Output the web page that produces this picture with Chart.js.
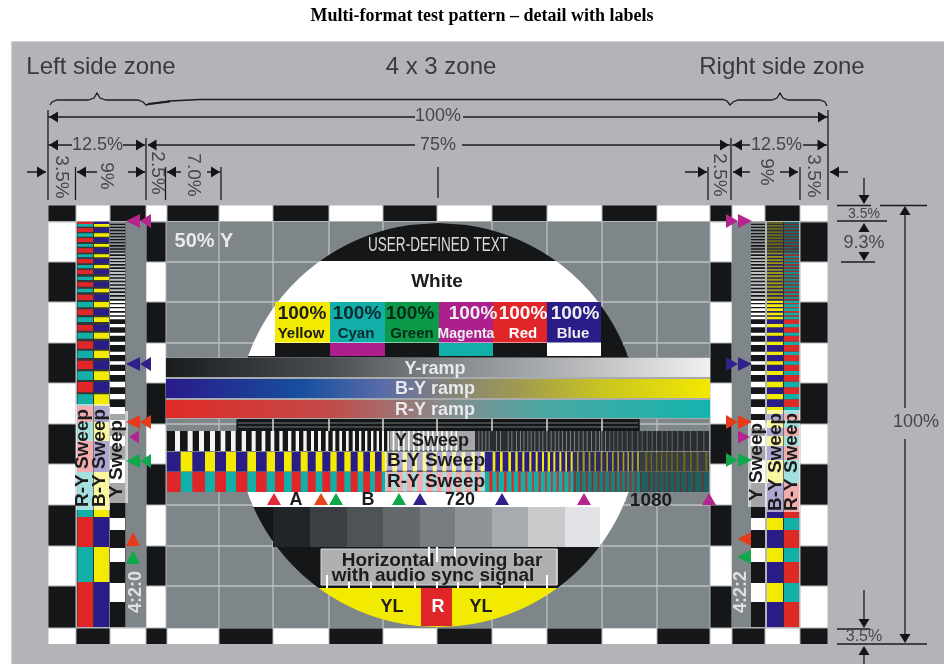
<!doctype html>
<html><head><meta charset="utf-8">
<style>html,body{margin:0;background:#fff}canvas{display:block}</style></head>
<body><canvas id="c" width="944" height="664"></canvas>
<script src="https://cdn.jsdelivr.net/npm/chart.js@4"></script>
<script>
// All values are in raster units of the test pattern: X = 0 left edge, Y = 0 top edge, frame = 780 x 438.
const titleText = 'Multi-format test pattern \u2013 detail with labels';
const checkColEdges = [0,28,62,98,119,171,225,281,335,389,444,499,554,609,662,684,717,752,780];
const checkRowEdges = [16,56,96,137,177,218,258,299,340,380,422];
const gridCols = [171,225,281,335,389,444,499,554,609];
const gridRows = [56,96,137,177,218,258,299,340,380];
const barEdges = [227,282,337,391,445,499,553];
const barColors = ['#f2ea00','#12aea8','#0a9a4a','#ad1f8c','#e1262a','#2a1d88'];
const subBarColors = ['#141618','#ad1f8c','#141618','#12aea8','#141618','#ffffff'];
const stepEdges = [225,262,299,335,372,407,444,480,517,552];
const stepColors = ['#212528','#3a4043','#4d5356','#62686b','#777d80','#909497','#a8abad','#c8cacc','#e2e3e6'];
// vertical sweeps, in thirds of a sample from their crop origin
const lumaLeft = [[45,60],[83,98],[117,132],[150,165],[182,196],[213,227],[245,258],[275,287],[305,316],[332,343],[358,368],[384,394],[407,417],[430,440],[453,462],[474,483],[497,505],[518,526],[538,546],[558,566],[578,585],[597,604],[615,622],[633,640],[650,657],[666,672],[682,688],[698,703],[714,719],[729,734],[744,749],[759,764],[774,779],[788,793],[802,807],[816,821],[830,835],[844,849],[858,863],[872,877],[886,891]];
const chromaLeft = [[62,97],[135,165],[198,228],[262,288],[320,345],[372,395],[422,443],[467,487],[511,530],[553,572],[593,610],[630,645],[665,680],[697,711],[728,741],[758,771],[788,800],[818,830],[847,859],[876,888],[905,916],[934,945],[962,973]];
const yellowRight = [[158,166],[180,188],[205,213],[226,233],[247,253],[268,274],[287,293],[306,312],[323,330],[340,346],[358,364],[376,381],[392,398],[411,416],[428,434],[446,451],[463,468],[482,487],[499,504],[516,521],[532,537],[548,553],[562,567],[575,580],[591,597],[616,622],[632,636],[648,652],[663,667],[678,682],[694,698],[710,714],[730,736],[750,755],[770,775],[796,802]];
const redRight = [[148,157],[170,176],[192,200],[215,221],[235,242],[256,262],[277,282],[296,302],[315,320],[333,338],[350,356],[368,373],[386,391],[403,408],[421,426],[438,443],[455,460],[473,478],[490,495],[508,512],[525,530],[541,545],[555,560],[569,574],[584,589],[600,604],[625,630],[640,644],[656,660],[671,675],[686,690],[702,706],[720,724],[740,745],[760,765],[785,790]];
const lumaRight = [115,125,136,146,156,168,180,192,203,214,228,240,250,262,272,283,296,307,319,332,344,355,366,378,390,402,415,428,440,453,466,477,484,495,508,520,532,545,560,575,592,605,620,635,648,665,680,695,712,730,750,770,790];
// horizontal sweeps, in thirds of a line from their crop origin
const lumaRows = [[66,71],[75,80],[84,89],[94,99],[103,108],[112,117],[121,126],[130,135],[140,145],[149,154],[158,163],[168,173],[178,183],[187,192],[197,202],[207,212],[216,222],[226,232],[236,242],[247,253],[257,263],[268,274],[279,285],[290,297],[302,309],[313,321],[325,333],[338,346],[350,358],[372,382],[398,407],[425,435],[455,465],[484,494],[513,525],[545,562],[582,598],[621,642],[660,684],[708,738],[780,849],[954,990],[1044,1086],[1149,1206]];
const leftRedRows = [[65,72],[84,96],[114,126],[145,158],[177,190],[209,222],[247,260],[284,300],[328,345],[375,392],[424,446],[482,507],[546,577],[618,666],[723,816],[951,1041],[1146,1281]];
const leftCyanRows = [[72,80],[100,110],[132,140],[163,172],[195,205],[230,240],[266,277],[306,322],[352,366],[398,416],[452,474],[514,540],[583,617],[666,723],[816,951],[1041,1146]];
const centerTriX = [226,273,288,351,372,454,536,661];
const centerTriColors = ['#e6283a','#e8451c','#0fa84a','#0fa84a','#30208a','#30208a','#b5258f','#b5258f'];
const tickTall = [279,499], tickShort = [301,323,345,367,389,410,432,454,477], tickUpper = [381,389,407];
const dimVertical = [[0,-96,-6],[98,-68,-6],[27.5,-39,-6],[117.5,-39,-6],[173,-39,-6],[390,-39,-8],[660,-39,-6],[683,-68,-6],[752,-39,-6],[780,-96,-6],[816,-28,-3],[857,8,202],[857,233,430],[816,384,414],[816,449,458]];
const dimHorizontal = [[0,367,-89],[415,780,-89],[0,24,-61],[75,97,-61],[100,367,-61],[414,682,-61],[684,702,-61],[755,779,-61],[-21,-2,-34],[29,49,-34],[80,97,-34],[119,133,-34],[159,172,-34],[637,659,-34],[685,702,-34],[732,750,-34],[782,800,-34],[789,823,-0.5],[832,879,-0.5],[789,839,15],[793,827,56],[789,822,423],[789,879,438]];
const dimArrows = [[1,-89,'L'],[779,-89,'R'],[1,-61,'L'],[97,-61,'R'],[99.5,-61,'L'],[681,-61,'R'],[685,-61,'L'],[778.5,-61,'R'],[-2,-34,'R'],[29,-34,'L'],[97,-34,'R'],[119,-34,'L'],[172,-34,'R'],[659,-34,'R'],[685,-34,'L'],[750,-34,'R'],[782,-34,'L'],[816,-2,'D'],[816,17,'U'],[816,55,'D'],[857,0,'U'],[857,437,'D'],[816,422,'D'],[816,440,'U']];
const bracePath = [[2,-101],[4,-104],[9,-106],[40,-106],[46,-108],[49,-113],[52,-108],[58,-106],[90,-106],[95,-104],[98,-101],[102,-102],[122,-105],[152,-106.5],[675,-106.5],[679,-105],[682,-101],[685,-104],[690,-106],[724,-106],[729,-108],[732,-113],[735,-108],[740,-106],[772,-106],[777,-104],[779,-100]];
const yRampStops = [[0,'#1a1c1e'],[.3,'#4a4e50'],[.5,'#7f8488'],[.75,'#b5b7b9'],[1,'#f0f0f2']];
const bRampStops = [[0,'#2a1a8a'],[.25,'#174f9e'],[.4,'#5a6ca8'],[.5,'#808080'],[.65,'#a09a50'],[.8,'#c8c420'],[1,'#f2e800']];
const rRampStops = [[0,'#e02a26'],[.3,'#c24a48'],[.5,'#8a8a8a'],[.7,'#4aa8a4'],[1,'#14b4ae']];

const BLACK='#141618', WHITE='#ffffff', GRAY='#7f8689', DARK='#33373b';
const GAP={x:null,y:null};
const layers=[];
function poly(color,pts){
  const l=layers[layers.length-1];
  const p=pts.map(a=>({x:a[0],y:a[1]}));
  if(l&&l.k==='f'&&l.c===color){l.p.push(GAP,...p);} else layers.push({k:'f',c:color,p});
}
function rect(x0,x1,y0,y1,color){poly(color,[[x0,y0],[x1,y0],[x1,y1],[x0,y1]]);}
function line(color,w,segs){
  const p=[];segs.forEach((s,i)=>{if(i)p.push(GAP);s.forEach(a=>p.push({x:a[0],y:a[1]}));});
  layers.push({k:'l',c:color,w,p});
}
function ramp(x0,x1,y0,y1,stops){layers.push({k:'g',stops,x0,x1,p:[[x0,y0],[x1,y0],[x1,y1],[x0,y1]].map(a=>({x:a[0],y:a[1]}))});}
const DISC={cx:390,cy:219,r:202};
function disc(y0,y1,color,xmin=-1e9,xmax=1e9){
  const L=[],R=[];
  for(let y=y0;;y=Math.min(y+2,y1)){
    const hw=Math.sqrt(Math.max(0,DISC.r*DISC.r-(y-DISC.cy)*(y-DISC.cy)));
    L.push([Math.min(xmax,Math.max(xmin,DISC.cx-hw)),y]);
    R.push([Math.max(xmin,Math.min(xmax,DISC.cx+hw)),y]);
    if(y>=y1)break;
  }
  poly(color,L.concat(R.reverse()));
}
const zy=z=>-6+z/3, sxL=z=>112+z/3, sxR=z=>392+z/3;
const tierOf=(z,a,b)=>z<a?0:z<b?1:2;

// checkerboard
for(let i=0;i<checkColEdges.length-1;i++){
  const a=checkColEdges[i]+.5,b=checkColEdges[i+1]-.5;
  rect(a,b,-.5,15,i%2?WHITE:BLACK);
  rect(a,b,422.5,438,i%2?BLACK:WHITE);
}
function checkCol(x0,x1,firstWhite){
  for(let i=0;i<checkRowEdges.length-1;i++){
    rect(x0+.5,x1-.5,checkRowEdges[i]+.5,checkRowEdges[i+1]-.5,(i%2===0)===firstWhite?WHITE:BLACK);
  }
}
checkCol(0,28,true);checkCol(98,118,false);checkCol(662,684,true);checkCol(752,780,false);

// side strips
rect(78,98,16,421,GRAY);rect(684,703,16,421,GRAY);
// left horizontal sweeps
rect(29,61.5,16,421,DARK);rect(62,77.5,16,421,BLACK);
leftRedRows.forEach(r=>{rect(29.5,45,zy(r[0]),zy(r[1]),'#e1262a');});
leftCyanRows.forEach(r=>{rect(29.5,45,zy(r[0]),zy(r[1]),'#12aea8');});
leftRedRows.forEach(r=>{rect(46,61,zy(r[0]),zy(r[1]),'#2a1d88');});
leftCyanRows.forEach(r=>{rect(46,61,zy(r[0]),zy(r[1]),'#f2ea00');});
const lumaShade=['#8a8e90','#c0c2c4','#ffffff'];
lumaRows.forEach(r=>rect(62,77,zy(r[0]),zy(r[1]),lumaShade[tierOf(r[0],150,300)]));
// right horizontal sweeps
rect(703,717,16,421,BLACK);rect(719,751,16,421,'#2c2f3a');
const blueShade=['#30304a','#2a2466','#2a1d88'],yellowShade=['#6f6c18','#9c9812','#f2ea00'];
const redShade=['#7a2c2c','#a82a2a','#dd2a26'],cyanShade=['#1e6a6a','#16908c','#12aea8'];
lumaRows.forEach((r,i)=>{
  const next=i+1<lumaRows.length?lumaRows[i+1][0]:1281, t=tierOf(r[0],150,300);
  rect(703,717,zy(r[0]),zy(r[1]),lumaShade[t]);
  rect(719,735,zy(r[1]),zy(next),blueShade[t]);
  rect(719,735,zy(r[0]),zy(r[1]),yellowShade[t]);
  rect(736,751,zy(r[1]),zy(next),redShade[t]);
  rect(736,751,zy(r[0]),zy(r[1]),cyanShade[t]);
});

// centre grey field and grid
rect(118.5,661.5,16,422,GRAY);
line('#bcc0c1',1.3,gridCols.map(x=>[[x,16],[x,422]]).concat(gridRows.map(y=>[[118.5,y],[661.5,y]])));

// disc
disc(17,55,BLACK);
disc(55,153,WHITE,-1e9,553);
disc(96,153,BLACK,553);
for(let i=0;i<barColors.length;i++){
  rect(barEdges[i],barEdges[i+1],96,136.5,barColors[i]);
  rect(barEdges[i],barEdges[i+1],137,151,subBarColors[i]);
}
disc(150,226,BLACK);
line('#70767a',1,[[[190,217],[590,217]],[[190,221],[590,221]]]);
line('#d6d8d9',1.5,[171,225,281,335,389,444,499,554].filter(x=>x>190).map(x=>[[x,213],[x,225]]));
disc(285,301,WHITE);
disc(301,341,BLACK,-1e9,226);
disc(301,341,WHITE,552);
for(let i=0;i<stepColors.length;i++) rect(stepEdges[i],stepEdges[i+1],301,341,stepColors[i]);
disc(341,382,BLACK);
disc(382,421,'#f2ea00');
rect(373,404,382,420,'#e1262a');

// ramps
rect(118,662,151.5,213,'#a8aaac');
ramp(118,662,152,171,yRampStops);
ramp(118,662,173,192,bRampStops);
ramp(118,662,194,212,rRampStops);

// vertical sweeps
rect(119,427,225,245,BLACK);rect(427,661,225,245,'#2a2e31');
rect(119,525,246,265.5,'#2a1d88');rect(525,592,246,265.5,'#2c2a62');rect(592,661,246,265.5,'#3a3c44');
rect(119,437,266,286,'#e1262a');rect(437,525,266,286,'#12aea8');rect(525,592,266,286,'#19807c');rect(592,661,266,286,'#1e5f5f');
lumaLeft.forEach(b=>rect(sxL(b[0]),sxL(b[1]),225,245,'#f4f4f4'));
chromaLeft.forEach(b=>rect(sxL(b[0]),sxL(b[1]),246,265.5,'#f2ea00'));
chromaLeft.forEach(b=>rect(sxL(b[0]),sxL(b[1]),266,286,'#12aea8'));
lumaRight.forEach(z=>rect(sxR(z),sxR(z)+1,225,245,z<500?'#7a7e80':'#64686a'));
const yTier=['#f2ea00','#a8a010','#6f6c18'],rTier=['#dd2a26','#9c2b28','#6c2e2c'];
yellowRight.forEach(b=>rect(sxR(b[0]),sxR(b[1]),246,265.5,yTier[tierOf(b[0],400,600)]));
redRight.forEach(b=>rect(sxR(b[0]),sxR(b[1]),266,286,rTier[tierOf(b[0],400,600)]));

// triangles below the sweeps
centerTriX.forEach((x,i)=>poly(centerTriColors[i],[[x,287],[x+7,299],[x-7,299]]));

// moving bar area
rect(273,509,343,379,'#aeb0b2');
line('#d5d6d8',1,[[[273,343],[509,343],[509,379],[273,379],[273,343]]]);
tickTall.forEach(x=>rect(x-1,x+1,369,382,WHITE));
tickShort.forEach(x=>rect(x-1,x+1,376,382,WHITE));
tickUpper.forEach(x=>rect(x-1,x+1,341,356,WHITE));

// translucent sweep captions
const veil='rgba(255,255,255,0.62)';
rect(342,427,225,244.5,veil);rect(337,437,246,264.5,veil);rect(337,437,266,285.5,veil);
rect(28,45,198,304,veil);rect(45.5,62,198,304,veil);rect(62,80,205,297,veil);
rect(700,719,216,301,veil);rect(719,735,204,306,veil);rect(735.5,752,204,306,veil);

// coloured locators
const MAG='#b5258f',PUR='#30208a',RED='#e63a1a',GRN='#0fa84a';
[[15,MAG],[158,PUR],[216,RED],[255,GRN]].forEach(a=>{
  poly(a[1],[[78,a[0]],[92,a[0]-7],[92,a[0]+7]]);
  poly(a[1],[[92,a[0]],[103,a[0]-7],[103,a[0]+7]]);
});
[[15,MAG],[158,PUR],[216,RED],[254,GRN]].forEach(a=>{
  poly(a[1],[[690,a[0]],[678,a[0]-7],[678,a[0]+7]]);
  poly(a[1],[[704,a[0]],[690,a[0]-7],[690,a[0]+7]]);
});
poly(MAG,[[81,231],[91,224.5],[91,237.5]]);
poly(RED,[[85,326],[92,340],[78,340]]);
poly(GRN,[[85,344],[92,358],[78,358]]);
poly(MAG,[[702,231],[690,224.5],[690,237.5]]);
poly(RED,[[689.5,333],[703,326],[703,340]]);
poly(GRN,[[689,351],[703,344],[703,358]]);

// dimension lines
line('#1c1c1e',1.3,dimVertical.map(a=>[[a[0],a[1]],[a[0],a[2]]]).concat(dimHorizontal.map(a=>[[a[0],a[2]],[a[1],a[2]]])));
line('#1c1c1e',1.3,[bracePath]);
line('#1c1c1e',2,[[[100,-102],[122,-104.6]]]);
dimArrows.forEach(a=>{
  const [x,y,d]=a,L=9,H=5.5;
  if(d==='L')poly('#141416',[[x,y],[x+L,y-H],[x+L,y+H]]);
  if(d==='R')poly('#141416',[[x,y],[x-L,y-H],[x-L,y+H]]);
  if(d==='U')poly('#141416',[[x,y],[x-H,y+L],[x+H,y+L]]);
  if(d==='D')poly('#141416',[[x,y],[x-H,y-L],[x+H,y-L]]);
});

// text
const S='"Liberation Sans"',DIM='#47474b',INK='#1c1c1e',SOFT='#e8e8ee';
const T=(t,x,y,size,color,bold=false,rot=0,extra={})=>({t,x,y,size,color,bold,rot,...extra});
const texts=[
 T('Left side zone',53,-139,24,'#3a3a3e'),T('4 x 3 zone',393,-139,24,'#3a3a3e'),T('Right side zone',734,-139,24,'#3a3a3e'),
 T('100%',390,-90,18,DIM),T('12.5%',49.5,-61,18,DIM),T('75%',390,-61,18,DIM),T('12.5%',728.5,-61,18,DIM),
 T('3.5%',13,-29,19,DIM,false,90),T('9%',58,-30,19,DIM,false,90),T('2.5%',109,-33,19,DIM,false,90),T('7.0%',145,-31,19,DIM,false,90),
 T('2.5%',671,-31,19,DIM,false,90),T('9%',718,-34,19,DIM,false,90),T('3.5%',765,-30,19,DIM,false,90),
 T('3.5%',816,8,14,DIM),T('9.3%',816,37,18,DIM),T('100%',868,216,18,DIM),T('3.5%',816,431,16,DIM),
 T('50% Y',156,35,20,SOFT,true),
 T('USER-DEFINED TEXT',390,39,20,'#dcdcdc',false,0,{max:140}),
 T('White',389,76,19,INK,true),
 T('100%',254,108,19,INK,true),T('100%',309,108,19,'#0a2a30',true),T('100%',362,108,19,'#062a18',true),T('100%',425,108,19,'#eee',true),T('100%',475,108,19,'#fff',true),T('100%',527,108,19,'#eee',true),
 T('Yellow',253,128,15,INK,true),T('Cyan',308,128,15,'#0a2a30',true),T('Green',364,128,15,'#062a18',true),T('Magenta',418,128,14,'#eee',true),T('Red',475,128,15,'#fff',true),T('Blue',525,128,15,'#eee',true),
 T('Y-ramp',387,163,18,SOFT,true),T('B-Y ramp',387,183,18,SOFT,true),T('R-Y ramp',387,204,18,SOFT,true),
 T('Y Sweep',384,235,18,INK,true),T('B-Y Sweep',388,255,19,INK,true),T('R-Y Sweep',388,276,19,INK,true),
 T('A',248,294,18,INK,true),T('B',320,294,18,INK,true),T('720',412,294,18,INK,true),T('1080',603,295,19,INK,true),
 T('Horizontal moving bar',394,355,19,INK,true),T('with audio sync signal',385,370,19,INK,true),
 T('YL',344,401,18,INK,true),T('R',390,401,18,'#fff',true),T('YL',433,401,18,INK,true),
 T('R-Y Sweep',35,252,19,INK,true,-90),T('B-Y Sweep',52,252,19,INK,true,-90),T('Y Sweep',69,253,19,INK,true,-90),
 T('Y Sweep',709,256,19,INK,true,-90),T('B-Y Sweep',728,256,19,INK,true,-90),T('R-Y Sweep',744,256,19,INK,true,-90),
 T('4:2:0',88,386,18,'#e0e0e0',true,-90),T('4:2:2',693,386,18,'#e0e0e0',true,-90)
];

const datasets=layers.map(l=>{
  const base={data:l.p,showLine:true,pointRadius:0,pointHoverRadius:0,tension:0,spanGaps:false};
  if(l.k==='l')return {...base,borderColor:l.c,borderWidth:l.w,fill:false};
  if(l.k==='g')return {...base,borderWidth:0,fill:'shape',backgroundColor(ctx){
    const ch=ctx.chart,sc=ch.scales&&ch.scales.x; if(!sc)return '#888';
    const a=sc.getPixelForValue(l.x0),b=sc.getPixelForValue(l.x1);
    if(!isFinite(a)||!isFinite(b))return '#888';
    const g=ch.ctx.createLinearGradient(a,0,b,0);
    l.stops.forEach(s=>g.addColorStop(s[0],s[1]));return g;}};
  return {...base,borderWidth:0,fill:'shape',backgroundColor:l.c};
}).reverse();

const panel={id:'panel',
  beforeDraw(ch){const c=ch.ctx;c.save();c.fillStyle='#fff';c.fillRect(0,0,ch.width,ch.height);c.restore();},
  beforeDatasetsDraw(ch){
    const c=ch.ctx,X=ch.scales.x,Y=ch.scales.y,x0=X.getPixelForValue(-37),y0=Y.getPixelForValue(-165);
    c.save();c.fillStyle='#b3b4b8';c.fillRect(x0,y0,ch.width-x0,ch.height-y0);
    c.fillStyle='#cdced1';c.fillRect(x0,y0,ch.width-x0,1.2);c.fillRect(x0,y0,1.2,ch.height-y0);c.restore();
  }};
const words={id:'words',afterDatasetsDraw(ch){
  const c=ch.ctx,X=ch.scales.x,Y=ch.scales.y;
  texts.forEach(t=>{
    c.save();
    c.translate(X.getPixelForValue(t.x),Y.getPixelForValue(t.y));
    if(t.rot)c.rotate(t.rot*Math.PI/180);
    c.font=(t.bold?'bold ':'')+t.size+'px '+(t.family||S);
    c.fillStyle=t.color;c.textAlign='center';c.textBaseline='middle';
    if(t.max)c.fillText(t.t,0,0,t.max);else c.fillText(t.t,0,0);
    c.restore();
  });
}};
const soften={id:'soften',afterDraw(ch){
  const c=ch.ctx,r=ch.currentDevicePixelRatio,cv=ch.canvas,y=Math.round(41*r);
  c.save();c.setTransform(1,0,0,1,0,0);c.filter='blur('+(0.65*r)+'px)';
  c.drawImage(cv,0,y,cv.width,cv.height-y,0,y,cv.width,cv.height-y);c.restore();
}};

new Chart(document.getElementById('c'),{
  type:'scatter',
  data:{datasets},
  plugins:[panel,words,soften],
  options:{
    responsive:false,animation:false,events:[],
    layout:{padding:{left:20,right:0,top:0,bottom:0}},
    plugins:{legend:{display:false},tooltip:{enabled:false},
      title:{display:true,text:titleText,color:'#000',font:{family:'"Liberation Serif"',size:18,weight:'bold',lineHeight:1.2},padding:{top:6,bottom:13.4}}},
    scales:{
      x:{type:'linear',display:false,min:-28,max:896},
      y:{type:'linear',display:false,reverse:true,min:-165,max:458}
    }
  }
});
</script></body></html>
